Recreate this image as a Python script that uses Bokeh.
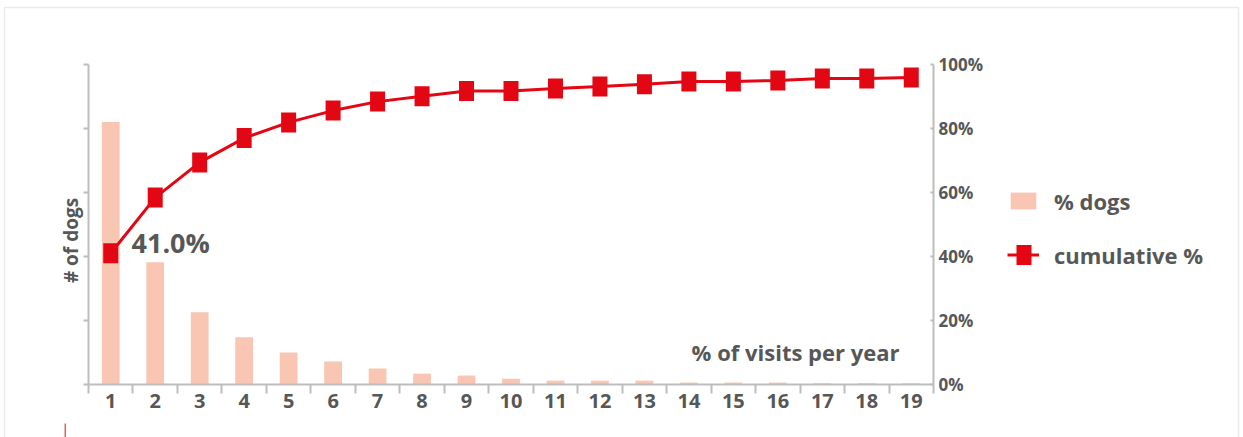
import math

from bokeh.plotting import figure
from bokeh.models import (Range1d, LinearAxis, FixedTicker, PrintfTickFormatter,
                          Legend, LegendItem, Label, BoxAnnotation)
from bokeh.core.properties import value
from bokeh.embed import file_html
from bokeh.resources import INLINE

# ---- data -------------------------------------------------------------
visits = list(range(1, 20))                      # visits per year (categories)
tick_labels = [str(v) for v in visits]
share_dogs = [41.0, 19.1, 11.3, 7.4, 5.0, 3.6, 2.5, 1.7, 1.4, 0.9,
              0.6, 0.6, 0.6, 0.3, 0.3, 0.3, 0.2, 0.2, 0.2]      # % dogs
cumulative = [41.0, 58.4, 69.4, 77.0, 81.9, 85.6, 88.4, 90.1, 91.7, 91.7,
              92.5, 93.1, 93.8, 94.7, 94.7, 95.0, 95.6, 95.6, 95.9]  # cumulative %
share_ticks = [0, 10, 20, 30, 40, 50]
pct_ticks = [0, 20, 40, 60, 80, 100]

# ---- style ------------------------------------------------------------
FONT = "Open Sans"
TEXT = "#575757"
AXIS = "#BDBDBD"
RED = "#E30613"
BAR = "#F8C6B2"

# ---- layout (pixels) --------------------------------------------------
W, H = 1243, 437
PL, PR, PT, PB = 88, 933, 64, 384          # axes box inside the canvas

x_lo, x_hi = visits[0] - 0.5, visits[-1] + 0.5
sh_hi, pc_hi = share_ticks[-1], pct_ticks[-1]
kx = (PR - PL) / (x_hi - x_lo)
ks = (PB - PT) / sh_hi
kp = (PB - PT) / pc_hi

p = figure(width=W, height=H, output_backend="svg", toolbar_location=None,
           x_axis_type=None, y_axis_type=None,
           x_range=Range1d(x_lo - PL / kx, x_hi + (W - PR) / kx),
           y_range=Range1d(-(H - PB) / ks, sh_hi + PT / ks),
           min_border=0)
p.background_fill_color = "white"
p.border_fill_color = "white"
p.outline_line_color = None
p.extra_y_ranges = {"pct": Range1d(-(H - PB) / kp, pc_hi + PT / kp)}

def style_axis(ax):
    ax.axis_line_color = AXIS
    ax.axis_line_width = 2
    ax.major_tick_line_color = AXIS
    ax.major_tick_line_width = 2
    ax.minor_tick_line_color = AXIS
    ax.minor_tick_line_width = 2
    ax.major_label_text_font = FONT
    ax.major_label_text_font_style = "bold"
    ax.major_label_text_color = TEXT

# x axis: labels at the categories, tick marks between them
xa = LinearAxis(fixed_location=0, bounds=(x_lo, x_hi),
                ticker=FixedTicker(ticks=visits,
                                   minor_ticks=[v - 0.5 for v in visits] + [x_hi]))
style_axis(xa)
xa.major_label_overrides = {v: t for v, t in zip(visits, tick_labels)}
xa.major_tick_in = 0
xa.major_tick_out = 0
xa.minor_tick_in = 0
xa.minor_tick_out = 9
xa.major_label_standoff = 0
xa.major_label_text_font_size = "20px"
p.add_layout(xa, "below")

# left axis: share of dogs, tick marks only
ya = LinearAxis(fixed_location=x_lo, bounds=(0, sh_hi),
                ticker=FixedTicker(ticks=[], minor_ticks=share_ticks))
style_axis(ya)
ya.minor_tick_in = 0
ya.minor_tick_out = 5
p.add_layout(ya, "left")

# right axis: cumulative percentage
ra = LinearAxis(fixed_location=x_hi, y_range_name="pct", bounds=(0, pc_hi),
                ticker=FixedTicker(ticks=pct_ticks),
                formatter=PrintfTickFormatter(format="%d%%"))
style_axis(ra)
ra.major_tick_in = 3
ra.major_tick_out = 0
ra.major_label_standoff = 5
ra.major_label_text_font_size = "17px"
p.add_layout(ra, "right")

# ---- marks ------------------------------------------------------------
bars = p.vbar(x=visits, top=share_dogs, width=0.4, fill_color=BAR, line_color=None)
cum_line = p.line(visits, cumulative, y_range_name="pct", line_color=RED, line_width=3)
cum_marks = p.rect(visits, cumulative, width=15, height=20,
                   width_units="screen", height_units="screen",
                   y_range_name="pct", fill_color=RED, line_color=None)
# legend key for the square marker: one 15px dash of a 20px stroke,
# hidden in the plot itself and only drawn inside the legend
marker_key = p.line(visits, cumulative, y_range_name="pct", line_color=RED,
                    line_width=20, line_dash="0 9 15 100", line_cap="butt",
                    visible=False)

legend = Legend(items=[LegendItem(label=value("% dogs"), renderers=[bars]),
                       LegendItem(label=value("cumulative %"),
                                  renderers=[cum_line, marker_key])],
                location=(1007, H - 185.5 - 84), orientation="vertical",
                glyph_width=32, glyph_height=21, label_height=30,
                padding=0, margin=0, spacing=24, label_standoff=15,
                label_text_font=FONT, label_text_font_size="22px",
                label_text_font_style="bold", label_text_color=TEXT,
                border_line_color=None, background_fill_alpha=0)
p.add_layout(legend, "center")

def text(txt, x, y, size, units="screen", align="left", baseline="alphabetic", angle=0.0):
    p.add_layout(Label(x=x, y=y, x_units=units, y_units=units, text=txt,
                       text_font=FONT, text_font_size=size,
                       text_font_style="bold", text_color=TEXT,
                       text_align=align, text_baseline=baseline, angle=angle))

# ---- annotations --------------------------------------------------------
text(f"{share_dogs[0]:.1f}%", 131, H - 241.5, "27px")
text("% of visits per year", 899, H - 351, "22px", align="right")
text("# of dogs", 70, H - 240, "19px", align="center", baseline="middle",
     angle=math.pi / 2)

# panel frame around the chart (open at the bottom) and the page mark below it
p.add_layout(BoxAnnotation(left=4, right=1238, top=H - 7, bottom=-20,
                           left_units="screen", right_units="screen",
                           top_units="screen", bottom_units="screen",
                           fill_alpha=0, line_color=AXIS, line_width=1.5))
p.add_layout(BoxAnnotation(left=64, right=65.5, top=H - 423, bottom=-5,
                           left_units="screen", right_units="screen",
                           top_units="screen", bottom_units="screen",
                           fill_color="#EF5A64", fill_alpha=1, line_color=None))

open("out.html", "w").write(file_html(p, INLINE))
